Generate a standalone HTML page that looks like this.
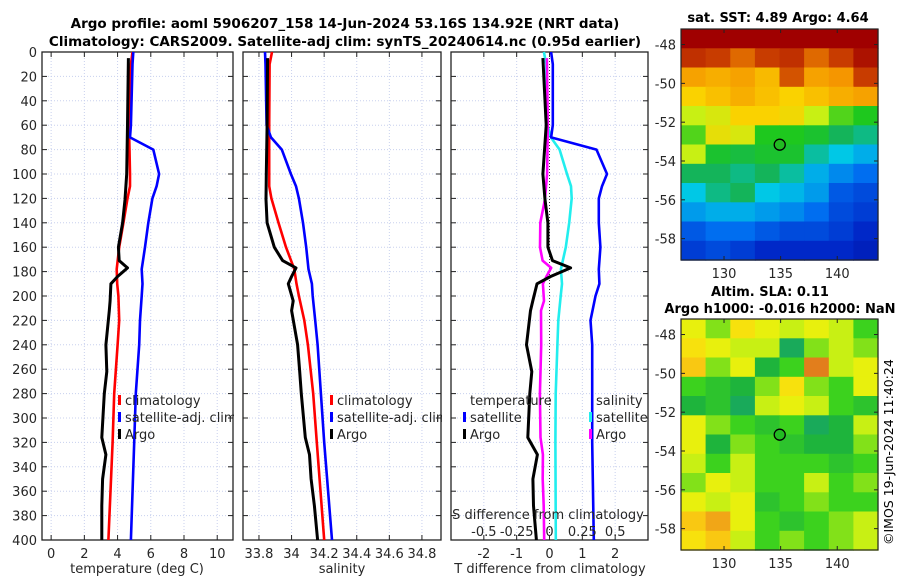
<!DOCTYPE html>
<html><head><meta charset="utf-8"><style>
html,body{margin:0;padding:0;background:#fff;}
svg{display:block;font-family:"DejaVu Sans","Liberation Sans",sans-serif;}
</style></head><body>
<svg id="fig" width="900" height="580" viewBox="0 0 900 580" xmlns="http://www.w3.org/2000/svg">
<text x="345" y="28" font-size="13.5" font-weight="bold" text-anchor="middle">Argo profile: aoml 5906207_158 14-Jun-2024 53.16S 134.92E (NRT data)</text>
<text x="345" y="46" font-size="13.5" font-weight="bold" text-anchor="middle">Climatology: CARS2009. Satellite-adj clim: synTS_20240614.nc (0.95d earlier)</text>
<text x="778" y="22" font-size="13" font-weight="bold" text-anchor="middle">sat. SST: 4.89 Argo: 4.64</text>
<text x="770" y="296" font-size="13" font-weight="bold" text-anchor="middle">Altim. SLA: 0.11</text>
<text x="780" y="313" font-size="13" font-weight="bold" text-anchor="middle">Argo h1000: -0.016 h2000: NaN</text>
<text transform="translate(893,545) rotate(-90)" font-size="12.5">©IMOS 19-Jun-2024 11:40:24</text>
<g id="g"></g>
</svg>
<script>
// ---- profile data ----
const depthT   = [0,10,60,70,80,100,110,120,140,160,178,190,200,220,240,280,320,400];
const climTemp = [4.9,4.8,4.7,4.7,4.72,4.75,4.75,4.6,4.35,4.1,3.95,3.98,4.05,4.1,4.0,3.8,3.7,3.45];
const satTemp  = [4.95,4.9,4.8,4.75,6.15,6.5,6.35,6.1,5.85,5.65,5.45,5.5,5.45,5.35,5.3,5.1,5.0,4.8];
const climSal  = [33.88,33.865,33.863,33.863,33.863,33.863,33.863,33.876,33.92,33.966,34.017,34.03,34.045,34.078,34.1,34.133,34.155,34.2];
const satSal   = [33.837,33.84,33.847,33.874,33.94,33.996,34.027,34.045,34.07,34.09,34.104,34.125,34.13,34.145,34.16,34.18,34.2,34.248];
const argoDepth= [5,60,100,121,140,160,171,177,184,190,204,212,240,262,280,316,330,350,372,400];
const argoTemp = [4.65,4.6,4.55,4.45,4.3,4.05,4.1,4.6,4.0,3.6,3.55,3.5,3.3,3.35,3.2,3.05,3.3,3.1,3.05,3.05];
const argoSal  = [33.853,33.85,33.845,33.843,33.85,33.894,33.945,34.027,34.0,33.98,34.01,34.0,34.037,34.05,34.06,34.084,34.11,34.12,34.14,34.16];
const tTicks = [0,2,4,6,8,10];
const sTicks = [33.8,34,34.2,34.4,34.6,34.8];
const dTicks = [-2,-1,0,1,2];
const dsTicks = [-0.5,-0.25,0,0.25,0.5];
const dsLabels = ["-0.5","-0.25","0","0.25","0.5"];
const zTicks = [0,20,40,60,80,100,120,140,160,180,200,220,240,260,280,300,320,340,360,380,400];
// ---- map data (rows north->south, cols west->east) ----
const sstGrid = [
[1,1,1,1,1,1,1,1],
[.92,.9,.86,.9,.92,.86,.9,.97],
[.8,.78,.8,.76,.88,.8,.82,.9],
[.72,.75,.78,.75,.72,.75,.78,.8],
[.62,.65,.72,.72,.7,.62,.55,.52],
[.55,.68,.65,.52,.52,.5,.45,.42],
[.62,.5,.48,.5,.5,.4,.35,.32],
[.45,.45,.42,.45,.4,.32,.28,.25],
[.35,.42,.45,.35,.33,.3,.22,.2],
[.3,.32,.32,.3,.28,.25,.2,.18],
[.22,.25,.25,.22,.2,.2,.18,.15],
[.18,.2,.18,.15,.15,.15,.15,.12]];
const slaGrid = [
[.6,.5,.65,.6,.55,.6,.55,.45],
[.65,.6,.55,.55,.3,.5,.55,.5],
[.7,.5,.6,.35,.45,.8,.55,.6],
[.45,.4,.35,.5,.65,.5,.45,.6],
[.35,.4,.3,.55,.6,.55,.45,.4],
[.6,.5,.45,.4,.45,.3,.35,.55],
[.6,.35,.5,.45,.4,.35,.35,.5],
[.55,.45,.55,.45,.45,.45,.4,.45],
[.5,.6,.55,.45,.45,.55,.45,.5],
[.6,.55,.6,.4,.45,.5,.45,.45],
[.7,.75,.6,.45,.4,.45,.5,.55],
[.65,.7,.55,.45,.5,.45,.5,.55]];
const lonTicks=[130,135,140];
const latTicks=[-48,-50,-52,-54,-56,-58];
const argoLon=134.92, argoLat=-53.16;

const NS="http://www.w3.org/2000/svg";
const G=document.getElementById('g');
function mk(tag,attrs,parent){const e=document.createElementNS(NS,tag);for(const k in attrs)e.setAttribute(k,attrs[k]);(parent||G).appendChild(e);return e;}
function txt(x,y,s,size,anchor,parent){const t=mk('text',{x:x,y:y,'font-size':size||13,'text-anchor':anchor||'middle',fill:'#262626'},parent);t.textContent=s;return t;}
const Y0=52,Y1=540;
const yS=d=>Y0+(d/400)*(Y1-Y0);
function panel(x0,x1,d0,d1,name){
  const xS=v=>x0+(v-d0)/(d1-d0)*(x1-x0);
  const g=mk('g',{});
  
  
  return {xS,g,x0,x1};
}
function frame(p,xt,labels,leftLabels){
  const g=p.g;
  zTicks.forEach(z=>{ if(z>0&&z<400){mk('line',{x1:p.x0,x2:p.x1,y1:yS(z),y2:yS(z),stroke:'#c8d0ee','stroke-width':1,'stroke-dasharray':'1,2'},g);}
    mk('line',{x1:p.x0,x2:p.x0+5,y1:yS(z),y2:yS(z),stroke:'#222'},g);
    mk('line',{x1:p.x1,x2:p.x1-5,y1:yS(z),y2:yS(z),stroke:'#222'},g);
    if(leftLabels){const t=txt(p.x0-5,yS(z)+5,String(z),13,'end',g);}
  });
  xt.forEach((v,i)=>{const x=p.xS(v);
    mk('line',{x1:x,x2:x,y1:Y0,y2:Y1,stroke:'#c8d0ee','stroke-width':1,'stroke-dasharray':'1,2'},g);
    mk('line',{x1:x,x2:x,y1:Y1,y2:Y1-5,stroke:'#222'},g);
    mk('line',{x1:x,x2:x,y1:Y0,y2:Y0+5,stroke:'#222'},g);
    const t=txt(x,558,labels[i],13,'middle',g);
    
    
  });
  mk('rect',{x:p.x0,y:Y0,width:p.x1-p.x0,height:Y1-Y0,fill:'none',stroke:'#222','stroke-width':1.3},g);
}
function line(p,xs,ds,color,name,w){
  const pts=xs.map((v,i)=>p.xS(v).toFixed(1)+','+yS(ds[i]).toFixed(1)).join(' ');
  const l=mk('polyline',{points:pts,fill:'none',stroke:color,'stroke-width':w||2.6,'stroke-linejoin':'round'},p.g);
  
  
}
function legend(g,x,y,color,label){
  mk('rect',{x:x,y:y-10,width:3,height:10,fill:color},g);
  const t=txt(x+7,y,label,13,'start',g);
  
  
}
function interp(ds,vs,d){for(let i=0;i<ds.length-1;i++){if(d>=ds[i]&&d<=ds[i+1]){const f=(d-ds[i])/(ds[i+1]-ds[i]);return vs[i]+f*(vs[i+1]-vs[i]);}}return d<ds[0]?vs[0]:vs[vs.length-1];}

// panel 1 temperature
const p1=panel(42,233,-0.55,10.95,'temperature-panel');
frame(p1,tTicks,tTicks.map(String),true);
line(p1,climTemp,depthT,'#ff0000','climatology-temp-line');
line(p1,satTemp,depthT,'#0000ff','satellite-temp-line');
line(p1,argoTemp,argoDepth,'#000000','argo-temp-line',3);
legend(p1.g,118,405,'#ff0000','climatology');
legend(p1.g,118,422,'#0000ff','satellite-adj. clim');
legend(p1.g,118,439,'#000000','Argo');
{const t=txt(137,573,'temperature (deg C)',13,'middle',p1.g);}
// panel 2 salinity
const p2=panel(243,441,33.702,34.917,'salinity-panel');
mk('rect',{x:234,y:380,width:8,height:60,fill:'#fff'});
frame(p2,sTicks,sTicks.map(v=>String(+v.toFixed(1))),false);
line(p2,climSal,depthT,'#ff0000','climatology-sal-line');
line(p2,satSal,depthT,'#0000ff','satellite-sal-line');
line(p2,argoSal,argoDepth,'#000000','argo-sal-line',3);
legend(p2.g,330,405,'#ff0000','climatology');
legend(p2.g,330,422,'#0000ff','satellite-adj. clim');
legend(p2.g,330,439,'#000000','Argo');
{const t=txt(342,573,'salinity',13,'middle',p2.g);}
mk('rect',{x:442,y:380,width:8,height:60,fill:'#fff'});
// panel 3 differences (S axis scaled x4 relative to T axis)
const p3=panel(451,648,-3,3,'difference-panel');
frame(p3,dTicks,dTicks.map(String),false);
const zx=p3.xS(0);
mk('line',{x1:zx,x2:zx,y1:Y0,y2:Y1,stroke:'#333','stroke-width':1,'stroke-dasharray':'1,2'},p3.g);
const SF=4;
const dT_sat=depthT.map((d,i)=>satTemp[i]-climTemp[i]);
const dT_argo=argoDepth.map((d,i)=>argoTemp[i]-interp(depthT,climTemp,d));
const dS_sat=depthT.map((d,i)=>(satSal[i]-climSal[i])*SF);
const dS_argo=argoDepth.map((d,i)=>(argoSal[i]-interp(depthT,climSal,d))*SF);
line(p3,dS_sat,depthT,'#22eeee','salinity-sat-diff-line');
line(p3,dS_argo,argoDepth,'#ff00ff','salinity-argo-diff-line');
line(p3,dT_sat,depthT,'#0000ff','temp-sat-diff-line');
line(p3,dT_argo,argoDepth,'#000000','temp-argo-diff-line',3);
txt(470,405,'temperature',13,'start',p3.g);
legend(p3.g,463,422,'#0000ff','satellite');
legend(p3.g,463,439,'#000000','Argo');
txt(596,405,'salinity',13,'start',p3.g);
legend(p3.g,589,422,'#22eeee','satellite');
legend(p3.g,589,439,'#ff00ff','Argo');
txt(548,519,'S difference from climatology',13,'middle',p3.g);
dsTicks.forEach((v,i)=>{const t=txt(p3.xS(v*SF),536,dsLabels[i],13,'middle',p3.g);});
{const t=txt(550,573,'T difference from climatology',13,'middle',p3.g);}

// maps
function sstColor(v){const st=[[0,[0,0,140]],[.15,[0,40,200]],[.25,[0,110,240]],[.35,[0,200,230]],[.45,[20,180,90]],[.52,[30,200,30]],[.62,[200,240,20]],[.72,[250,210,0]],[.82,[245,150,0]],[.9,[200,60,0]],[1,[160,0,0]]];return grad(st,v);}
function slaColor(v){const st=[[.25,[20,160,120]],[.35,[30,180,60]],[.45,[60,210,30]],[.55,[200,240,20]],[.62,[245,240,10]],[.72,[250,190,20]],[.82,[220,110,30]]];return grad(st,v);}
function grad(st,v){if(v<=st[0][0])return 'rgb('+st[0][1]+')';for(let i=0;i<st.length-1;i++){if(v<=st[i+1][0]){const f=(v-st[i][0])/(st[i+1][0]-st[i][0]);const c=st[i][1].map((a,k)=>Math.round(a+f*(st[i+1][1][k]-a)));return 'rgb('+c+')';}}return 'rgb('+st[st.length-1][1]+')';}
function map(grid,colorFn,x0,y0,x1,y1,name){
  const g=mk('g',{});
  
  
  const lonS=l=>x0+(l-126.2)/(143.6-126.2)*(x1-x0);
  const latS=a=>y0+(-47.2-a)/(59.1-47.2)*(y1-y0);
  const rows=grid.length,cols=grid[0].length;
  const cw=(x1-x0)/cols,ch=(y1-y0)/rows;
  grid.forEach((row,r)=>row.forEach((v,c)=>{const e=mk('rect',{x:(x0+c*cw).toFixed(1),y:(y0+r*ch).toFixed(1),width:(cw+0.6).toFixed(1),height:(ch+0.6).toFixed(1),fill:colorFn(v)},g);
    
    }));
  mk('rect',{x:x0,y:y0,width:x1-x0,height:y1-y0,fill:'none',stroke:'#222','stroke-width':1.2},g);
  lonTicks.forEach(l=>{const x=lonS(l);mk('line',{x1:x,x2:x,y1:y1,y2:y1-4,stroke:'#222'},g);mk('line',{x1:x,x2:x,y1:y0,y2:y0+4,stroke:'#222'},g);txt(x,y1+18,String(l),13,'middle',g);});
  latTicks.forEach(a=>{const y=latS(a);mk('line',{x1:x0,x2:x0+4,y1:y,y2:y,stroke:'#222'},g);mk('line',{x1:x1,x2:x1-4,y1:y,y2:y,stroke:'#222'},g);txt(x0-5,y+5,String(a),13,'end',g);});
  const m=mk('circle',{cx:lonS(argoLon),cy:latS(argoLat),r:5.5,fill:'#22bb22',stroke:'#000','stroke-width':1.3},g);
  
  
}
map(sstGrid,sstColor,681,29,878,260,'sst-map');
map(slaGrid,slaColor,681,319,878,550,'sla-map');
</script>
</body></html>
